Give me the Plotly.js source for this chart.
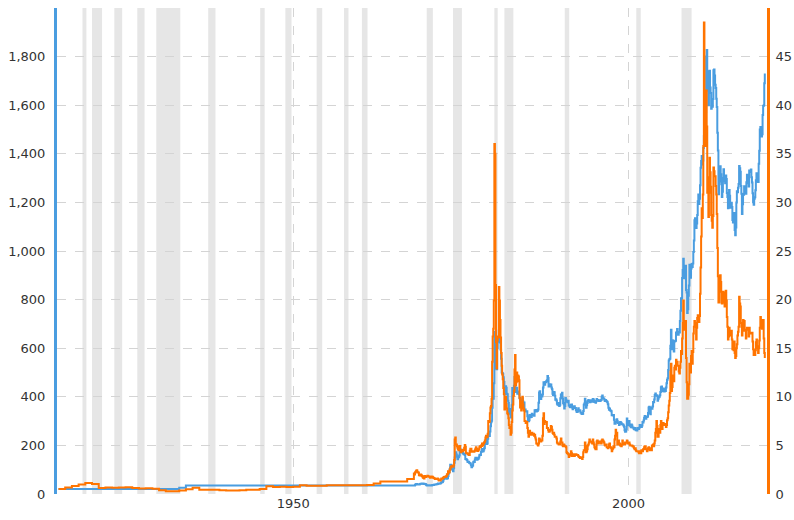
<!DOCTYPE html>
<html>
<head>
<meta charset="utf-8">
<script src="https://cdn.plot.ly/plotly-3.0.1.min.js"></script>
<style>
html,body{margin:0;padding:0;background:#fff;}
#chart{width:794px;height:520px;}
</style>
</head>
<body>
<div id="chart"></div>
<script>
// ---- Early annual data (1915-1967) ----
var earlyYears = [1915,1916,1917,1918,1919,1920,1921,1922,1923,1924,1925,1926,1927,1928,1929,1930,1931,1932,1933,1934,
  1935,1936,1937,1938,1939,1940,1941,1942,1943,1944,1945,1946,1947,1948,1949,1950,1951,1952,1953,1954,
  1955,1956,1957,1958,1959,1960,1961,1962,1963,1964,1965,1966,1967];
var goldEarly = [20.67,20.67,20.67,20.67,20.67,20.67,20.67,20.67,20.67,20.67,20.67,20.67,20.67,20.67,20.67,20.67,20.67,20.67,25.56,34.69,
  35,35,35,35,35,35,35,35,35,35,35,35,35,35,35,35,35,35,35,35,
  35,35,35,35,35,35,35,35,35,35,35,35,35];
var silverEarly = [0.51,0.66,0.82,0.97,1.12,1.02,0.63,0.68,0.65,0.67,0.69,0.62,0.57,0.58,0.53,0.38,0.29,0.28,0.35,0.48,
  0.64,0.45,0.45,0.43,0.39,0.35,0.35,0.38,0.45,0.45,0.52,0.80,0.72,0.74,0.72,0.74,0.89,0.85,0.85,0.85,
  0.91,0.91,0.91,0.89,0.91,0.91,0.92,1.08,1.28,1.29,1.29,1.29,1.55];

// ---- Monthly data from Jan 1968 ----
var monthlyStartYear = 1968;
var goldMonthly = [
  35.0,35.2,38,39,41.5,41,39.5,39,39.5,39.3,39.7,41.1,      // 1968
  42.3,42.6,43.4,43.5,43.5,41.5,42.0,41.2,40.9,40.4,37.4,35.2, // 1969
  34.9,35.0,35.1,35.7,35.9,35.4,35.3,35.4,36.2,37.5,37.4,37.4, // 1970
  37.9,38.7,38.9,39.0,40.5,40.1,41.0,42.7,42.0,42.5,42.9,43.5, // 1971
  45.7,48.3,48.3,49.0,54.6,62.1,65.7,67.0,65.5,64.9,62.9,63.9, // 1972
  65.1,74.2,84.4,90.5,102,120,120,106,103,100,94,106,          // 1973
  129,150,168,172,163,154,143,154,151,158,181,183,             // 1974
  176,180,178,170,167,164,166,160,144,143,142,139,             // 1975
  132,132,133,128,127,126,118,110,114,117,131,134,             // 1976
  132,142,149,149,147,141,144,145,150,159,162,161,             // 1977
  173,179,185,175,176,183,189,206,212,227,206,208,             // 1978
  227,246,243,239,257,279,295,301,355,392,392,456,             // 1979
  668,640,553,517,513,600,644,627,673,662,623,595,             // 1980
  557,500,498,495,480,461,409,411,443,437,413,410,             // 1981
  384,374,330,350,334,315,339,365,436,422,415,445,             // 1982
  481,490,420,433,437,413,422,416,411,394,382,388,             // 1983
  370,386,394,381,377,377,348,348,341,340,341,320,             // 1984
  303,299,304,325,316,317,317,330,324,326,325,322,             // 1985
  345,339,346,340,342,343,348,376,418,423,395,391,             // 1986
  408,401,409,438,460,450,450,461,460,465,468,486,             // 1987
  477,442,444,452,451,451,438,431,413,406,420,419,             // 1988
  404,388,390,385,371,367,375,365,362,367,394,409,             // 1989
  410,417,393,374,369,352,362,395,389,381,381,378,             // 1990
  384,364,363,358,357,367,368,356,349,359,360,361,             // 1991
  354,354,345,338,337,341,353,343,345,344,335,334,             // 1992
  329,329,330,342,367,372,392,378,355,365,374,383,             // 1993
  387,382,384,378,381,386,385,380,391,389,384,379,             // 1994
  379,376,382,391,385,387,386,383,383,383,386,387,             // 1995
  400,405,396,393,392,385,383,387,383,381,378,369,             // 1996
  355,347,352,344,344,341,324,324,323,325,306,289,             // 1997
  289,297,296,308,299,292,293,284,289,296,294,291,             // 1998
  287,287,286,282,277,262,256,257,265,311,293,283,             // 1999
  284,300,286,280,275,286,282,274,274,270,266,272,             // 2000
  265,262,263,261,272,270,268,273,284,283,276,276,             // 2001
  282,296,294,302,314,321,314,310,319,317,319,333,             // 2002
  356,359,340,328,355,356,351,360,379,378,389,407,             // 2003
  414,405,406,404,384,392,398,400,406,420,439,442,             // 2004
  424,423,434,429,422,431,424,438,456,470,476,510,             // 2005
  549,555,557,610,676,596,633,632,598,586,628,629,             // 2006
  631,665,655,679,667,655,665,665,712,754,806,803,             // 2007
  889,922,968,909,888,889,939,839,829,745,760,816,             // 2008
  858,943,924,890,928,946,934,949,996,1043,1127,1135,          // 2009
  1117,1095,1113,1148,1205,1232,1193,1215,1271,1343,1370,1391, // 2010
  1356,1372,1424,1474,1510,1528,1572,1800,1827,1660,1740,1600, // 2011
  1656,1742,1673,1650,1585,1596,1594,1626,1744,1747,1722,1684, // 2012
  1671,1627,1593,1487,1414,1234,1286,1347,1349,1316,1275,1222, // 2013
  1244,1300,1336,1299,1287,1279,1311,1296,1239,1222,1176,1200, // 2014
  1251,1227,1178,1198,1199,1181,1128,1117,1125,1156,1086,1065, // 2015
  1097,1200,1246,1242,1260,1276,1350,1341,1326,1267,1236,1152, // 2016
  1192,1234,1231,1266,1246,1260,1236,1283,1314,1279,1282,1265, // 2017
  1331,1331,1325,1335,1303,1282,1238,1201,1190,1215,1221,1250, // 2018
  1291,1320,1300,1285,1284,1359,1413,1500,1510,1495,1471,1480, // 2019
  1560,1597,1600,1690,1730                                     // 2020
];
var silverMonthly = [
  2.1,2.0,2.2,2.3,2.4,2.45,2.3,2.2,2.2,1.95,1.9,1.95,          // 1968
  2.0,1.95,1.85,1.8,1.7,1.65,1.6,1.85,1.8,1.75,1.8,1.8,        // 1969
  1.87,1.85,1.8,1.8,1.75,1.68,1.7,1.8,1.78,1.78,1.7,1.65,      // 1970
  1.65,1.58,1.55,1.55,1.55,1.55,1.6,1.55,1.42,1.38,1.38,1.4,   // 1971
  1.5,1.6,1.56,1.57,1.68,1.7,1.75,1.78,1.75,1.8,1.86,2.0,      // 1972
  2.05,2.35,2.3,2.2,2.5,2.65,2.8,2.85,2.85,2.9,2.8,2.95,       // 1973
  3.5,5.6,5.8,5.1,5.1,4.9,4.75,4.6,4.5,4.9,4.95,4.5,           // 1974
  4.3,4.5,4.4,4.4,4.55,4.5,4.75,5.05,4.85,4.25,4.2,4.2,        // 1975
  4.15,4.1,4.0,4.0,4.45,4.65,4.65,4.35,4.4,4.4,4.35,4.35,      // 1976
  4.4,4.5,4.65,4.8,4.65,4.45,4.42,4.5,4.6,4.8,4.9,4.8,         // 1977
  5.0,4.95,5.2,5.0,5.15,5.25,5.35,5.5,5.8,6.0,5.85,5.9,        // 1978
  6.2,7.5,7.4,7.45,8.3,8.9,9.05,9.8,13.6,16.2,17.0,19.9,       // 1979
  36.0,35.0,21.5,15.6,12.9,15.8,16.2,16.1,21.3,19.9,17.9,16.1, // 1980
  14.5,13.2,12.3,11.8,10.9,10.3,8.7,9.0,10.0,9.2,8.8,8.3,      // 1981
  8.2,7.8,7.1,6.8,6.9,6.1,6.3,7.4,8.6,9.2,10.1,10.6,           // 1982
  12.8,14.3,11.2,11.5,12.5,11.6,12.2,12.1,11.7,9.9,8.9,9.3,    // 1983
  8.6,9.5,10.0,9.2,8.8,8.6,7.5,7.5,7.3,7.4,7.4,6.8,            // 1984
  6.3,5.9,6.5,6.5,6.2,6.1,6.2,6.3,6.1,6.2,6.2,6.0,             // 1985
  6.1,5.8,5.6,5.2,5.2,5.1,5.0,5.2,5.7,5.6,5.5,5.4,             // 1986
  5.5,5.5,6.0,7.8,8.3,7.2,7.5,7.4,7.4,7.4,6.8,6.8,             // 1987
  6.6,6.4,6.4,6.5,6.6,7.0,6.9,6.6,6.3,6.2,6.3,6.1,             // 1988
  5.9,5.9,5.9,5.7,5.3,5.2,5.2,5.1,5.2,5.1,5.4,5.7,             // 1989
  5.3,5.3,5.0,4.9,5.1,5.0,4.9,4.9,4.8,4.3,4.2,4.2,             // 1990
  4.1,3.8,3.9,4.0,4.1,4.4,4.2,3.9,4.1,4.1,4.0,3.9,             // 1991
  4.1,4.1,4.1,4.0,4.0,4.0,3.9,3.8,3.8,3.7,3.75,3.7,            // 1992
  3.7,3.6,3.8,4.3,4.5,4.5,5.3,4.9,4.3,4.4,4.6,5.0,             // 1993
  5.1,5.3,5.6,5.4,5.4,5.4,5.3,5.2,5.6,5.3,5.1,4.8,             // 1994
  4.7,4.6,4.6,5.4,5.5,5.2,5.2,5.3,5.4,5.3,5.3,5.2,             // 1995
  5.5,5.6,5.5,5.4,5.3,5.1,5.0,5.1,5.1,4.8,4.8,4.7,             // 1996
  4.8,5.1,5.2,4.8,4.8,4.7,4.4,4.6,4.7,4.9,4.8,5.6,             // 1997
  6.0,6.6,6.2,6.3,5.1,5.3,5.5,5.1,5.2,5.0,5.0,4.9,             // 1998
  5.1,5.5,5.2,5.1,5.2,5.1,5.3,5.3,5.3,5.5,5.2,5.2,             // 1999
  5.2,5.3,5.1,5.0,5.0,5.0,5.0,4.9,4.9,4.8,4.7,4.6,             // 2000
  4.7,4.5,4.4,4.4,4.4,4.4,4.3,4.2,4.4,4.4,4.2,4.5,             // 2001
  4.5,4.4,4.6,4.6,4.8,4.9,4.9,4.6,4.6,4.4,4.6,4.7,             // 2002
  4.8,4.6,4.5,4.6,4.7,4.5,5.0,5.0,5.1,4.9,5.2,5.5,             // 2003
  6.3,6.7,7.5,7.0,5.9,5.9,6.6,6.7,6.3,7.1,7.5,6.9,             // 2004
  6.7,7.1,7.3,7.1,7.2,7.2,7.2,6.9,7.1,7.6,7.8,8.4,             // 2005
  9.1,9.6,10.4,12.6,13.4,10.6,11.0,12.2,11.6,11.6,13.0,13.2,   // 2006
  12.8,13.8,13.2,13.6,13.2,13.2,12.6,12.4,13.0,13.6,14.7,14.4, // 2007
  16.0,17.6,19.9,17.2,16.9,17.0,17.8,14.0,11.5,9.8,9.8,10.2,   // 2008
  11.3,13.4,13.1,12.5,14.2,14.7,13.4,14.6,16.5,17.2,17.8,17.6, // 2009
  17.4,15.9,17.1,18.1,18.4,18.4,17.7,18.3,20.6,23.3,26.5,29.4, // 2010
  28.4,30.8,35.8,48.5,37.0,35.8,38.9,41.5,37.8,31.0,32.6,28.5, // 2011
  31.0,34.6,33.1,31.6,28.7,28.1,27.4,28.6,33.6,33.2,32.7,32.7, // 2012
  31.7,30.8,28.8,25.3,22.4,19.7,19.7,22.1,22.5,21.8,20.8,19.6, // 2013
  19.9,20.8,20.7,19.7,19.3,19.9,20.9,19.9,18.2,17.2,15.9,16.2, // 2014
  17.1,16.8,16.3,16.3,16.8,15.9,14.9,14.9,14.8,15.7,14.5,14.0, // 2015
  14.2,15.0,15.4,16.3,16.7,17.2,20.3,19.6,19.3,17.6,17.2,16.3, // 2016
  16.8,17.9,17.4,17.8,16.8,16.9,16.0,16.9,17.1,17.1,17.0,16.2, // 2017
  17.1,16.6,16.5,16.6,16.5,16.6,15.7,14.9,14.3,14.6,14.3,14.8, // 2018
  15.6,15.9,15.2,15.0,14.5,15.0,15.8,17.1,18.2,17.6,17.1,17.0, // 2019
  17.9,17.9,16.0,14.5,14.0                                     // 2020
];

// Recession periods (start, end)
var recessionStarts = ['1918-08-01','1920-01-01','1923-05-01','1926-10-01','1929-08-01','1937-05-01','1945-02-01','1948-11-01','1953-07-01','1957-08-01','1960-04-01','1969-12-01','1973-11-01','1980-01-01','1981-07-01','1990-07-01','2001-03-01','2007-12-01'];
var recessionEnds   = ['1919-03-01','1921-07-01','1924-07-01','1927-11-01','1933-03-01','1938-06-01','1945-10-01','1949-10-01','1954-05-01','1958-04-01','1961-02-01','1970-11-01','1975-03-01','1980-07-01','1982-11-01','1991-03-01','2001-11-01','2009-06-01'];

// Axis ticks
var leftTickVals = [0,200,400,600,800,1000,1200,1400,1600,1800,2000];
var leftTickText = ['0','200','400','600','800','1,000','1,200','1,400','1,600','1,800',''];
var rightTickVals = [0,5,10,15,20,25,30,35,40,45,50];
var rightTickText = ['0','5','10','15','20','25','30','35','40','45',''];
var xTickVals = ['1950-01-01','2000-01-01'];
var xTickText = ['1950','2000'];

function pad(n){return (n<10?'0':'')+n;}
function buildSeries(earlyVals, monthlyVals){
  var x = [], y = [];
  for (var i=0;i<earlyYears.length;i++){ x.push(earlyYears[i]+'-01-01'); y.push(earlyVals[i]); }
  for (var j=0;j<monthlyVals.length;j++){
    var yr = monthlyStartYear + Math.floor(j/12), mo = (j%12)+1;
    x.push(yr+'-'+pad(mo)+'-01'); y.push(monthlyVals[j]);
  }
  return {x:x,y:y};
}
var gold = buildSeries(goldEarly, goldMonthly);
var silver = buildSeries(silverEarly, silverMonthly);

var BLUE = '#4a9de0', ORANGE = '#ff7400';

var traces = [
  {x: gold.x, y: gold.y, type:'scatter', mode:'lines', name:'Gold', line:{color:BLUE, width:2, shape:'hv'}, yaxis:'y', hoverinfo:'x+y'},
  {x: silver.x, y: silver.y, type:'scatter', mode:'lines', name:'Silver', line:{color:ORANGE, width:2, shape:'hv'}, yaxis:'y2', hoverinfo:'x+y'}
];

var shapes = [];
for (var k=0;k<recessionStarts.length;k++){
  shapes.push({type:'rect', xref:'x', yref:'paper', x0:recessionStarts[k], x1:recessionEnds[k], y0:0, y1:1,
    fillcolor:'#e6e6e6', line:{width:0}, layer:'below'});
}

var tickFont = {family:'"DejaVu Sans", Verdana, sans-serif', size:13, color:'#333'};
var layout = {
  width:794, height:520,
  margin:{l:57, r:27, t:8, b:26, pad:0},
  paper_bgcolor:'#fff', plot_bgcolor:'#fff',
  showlegend:false,
  shapes: shapes,
  xaxis:{type:'date', range:['1914-10-12','2020-08-29'], tickvals:xTickVals, ticktext:xTickText,
    showgrid:true, gridcolor:'#d4d4d4', griddash:'dash', gridwidth:1, zeroline:false, showline:false,
    ticks:'', tickfont:tickFont, fixedrange:true},
  yaxis:{range:[0,2000], tickvals:leftTickVals, ticktext:leftTickText, showgrid:true, gridcolor:'#d4d4d4', griddash:'dash', gridwidth:1,
    zeroline:false, showline:true, linecolor:BLUE, linewidth:3, ticks:'', ticklabelstandoff:6, tickfont:tickFont, fixedrange:true},
  yaxis2:{range:[0,50], overlaying:'y', side:'right', tickvals:rightTickVals, ticktext:rightTickText, showgrid:false,
    zeroline:false, showline:true, linecolor:ORANGE, linewidth:3, ticks:'', ticklabelstandoff:3, tickfont:tickFont, fixedrange:true}
};
Plotly.newPlot('chart', traces, layout, {displayModeBar:false, staticPlot:true});
</script>
</body>
</html>
